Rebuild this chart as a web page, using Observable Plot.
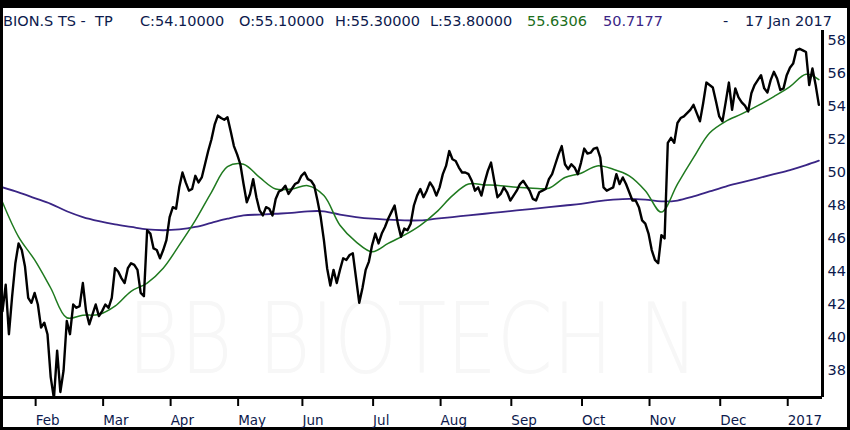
<!DOCTYPE html>
<html>
<head>
<meta charset="utf-8">
<script src="https://cdn.jsdelivr.net/npm/d3@7"></script>
<script src="https://cdn.jsdelivr.net/npm/@observablehq/plot@0.6"></script>
<style>
  html, body { margin: 0; padding: 0; }
  body { width: 850px; height: 430px; background: #000; position: relative; overflow: hidden; font-family: "DejaVu Sans", sans-serif; }
  #frame { position: absolute; left: 3px; top: 8px; width: 844px; height: 419px; background: #fff; }
  .t { position: absolute; top: 14px; font-size: 14.5px; line-height: 14.5px; color: #0d1a4d; white-space: pre; }
  #chart { position: absolute; left: 3px; top: 30px; }
</style>
</head>
<body>
<div id="frame"></div>
<div id="title"></div>
<div id="chart"></div>
<script>
// ---- data ----
const titleParts = ["BION.S TS -  TP", "C:54.10000", "O:55.10000", "H:55.30000", "L:53.80000"];
const maLabels = ["55.6306", "50.7177"];
const dateLabel = "17 Jan 2017";
const watermarkLabel = "BB BIOTECH N";
const firstDay = "2016-01-18";
const lastDay = "2017-01-17";
const holidays = ["2016-03-25", "2016-03-28", "2016-05-05", "2016-05-16", "2016-08-01", "2016-12-26", "2017-01-02"];
const monthLabels = ["Feb", "Mar", "Apr", "May", "Jun", "Jul", "Aug", "Sep", "Oct", "Nov", "Dec", "2017"];
const yTicks = [38, 40, 42, 44, 46, 48, 50, 52, 54, 56, 58];

// daily closes, one per trading day
const price = [
  41.6, 43.2, 40.2, 42.5, 44.5, 45.7, 45.3, 44.3, 42.4, 42.1,
  42.7, 42.0, 40.6, 40.9, 40.2, 37.6, 36.3, 39.2, 36.7, 38.0,
  41.0, 40.2, 42.0, 41.8, 41.9, 43.3, 41.6, 40.8, 41.4, 42.0,
  41.3, 41.6, 42.0, 41.8, 42.4, 44.2, 44.0, 43.6, 43.3, 44.2,
  44.5, 44.4, 44.1, 42.7, 42.5, 46.5, 46.3, 45.4, 45.3, 44.8,
  45.3, 45.9, 47.3, 47.9, 47.8, 49.1, 50.0, 49.4, 48.9, 49.0,
  49.8, 49.4, 49.7, 50.5, 51.3, 52.0, 52.9, 53.45, 53.3, 53.2,
  53.35, 52.5, 51.6, 51.1, 50.5, 49.3, 48.2, 48.7, 49.6, 48.5,
  47.7, 47.4, 47.9, 47.8, 47.4, 48.4, 48.85, 48.95, 49.2, 48.7,
  49.0, 49.3, 49.4, 49.8, 50.0, 49.6, 49.5, 49.2, 48.3, 47.3,
  45.9, 44.2, 43.15, 44.1, 43.3, 44.1, 44.8, 44.7, 45.0, 45.1,
  43.6, 42.1, 43.0, 44.1, 44.6, 45.6, 46.3, 45.7, 46.3, 46.7,
  47.2, 47.6, 48.0, 46.9, 46.1, 46.6, 46.5, 46.9, 48.0, 48.6,
  49.0, 48.5, 48.9, 49.4, 49.1, 48.6, 49.1, 49.9, 50.4, 51.3,
  50.8, 50.7, 50.3, 50.0, 50.0, 49.9, 49.5, 48.9, 49.1, 48.6,
  49.4, 50.1, 50.6, 49.5, 48.5, 48.7, 49.1, 48.8, 48.3, 48.6,
  48.9, 49.3, 49.5, 49.2, 48.9, 48.4, 48.3, 48.8, 48.9, 49.0,
  49.6, 49.9, 50.5, 51.1, 51.6, 50.5, 50.2, 50.5, 50.3, 49.9,
  50.6, 51.45, 51.15, 51.2, 51.45, 51.5, 50.9, 49.1, 48.9, 49.0,
  49.1, 49.9, 49.3, 49.7, 49.3, 48.8, 48.3, 48.3, 47.9, 47.1,
  46.9, 46.3, 45.3, 44.7, 44.5, 46.2, 46.0, 51.8, 52.1, 51.8,
  53.0, 53.3, 53.4, 53.6, 53.8, 54.1, 53.6, 53.1, 54.2, 55.45,
  55.3, 55.15, 54.3, 53.4, 53.1, 54.25, 55.45, 53.8, 55.1, 54.55,
  54.25, 54.05, 53.7, 54.8, 55.3, 55.6, 55.9, 55.1, 54.85, 55.6,
  56.1, 55.7, 55.0, 55.1, 55.9, 56.35, 56.6, 57.4, 57.5, 57.4,
  57.3, 55.3, 56.3, 55.3, 54.1
];

// moving averages read every 5th trading day (last value = final day)
const maStep = 5;
const greenMA = [
  48.2, 46.1, 44.7, 43.0, 41.2, 41.35, 41.4, 41.9, 42.8, 43.3,
  44.2, 45.6, 47.1, 48.8, 50.35, 50.5, 49.7, 49.0, 49.0, 49.2,
  48.6, 46.8, 45.8, 45.2, 45.7, 46.2, 46.8, 47.6, 48.6, 49.3,
  49.25, 49.2, 49.1, 49.05, 49.05, 49.7, 49.95, 50.4, 50.2, 49.8,
  48.9, 47.6, 49.3, 50.9, 52.4, 53.1, 53.55, 54.05, 54.6, 55.2,
  55.95, 55.63
];
const blueMA = [
  49.1, 48.8, 48.45, 48.1, 47.65, 47.3, 47.05, 46.85, 46.7, 46.55,
  46.5, 46.55, 46.7, 46.95, 47.2, 47.4, 47.45, 47.5, 47.55, 47.65,
  47.65, 47.45, 47.3, 47.2, 47.15, 47.1, 47.1, 47.2, 47.3, 47.4,
  47.5, 47.6, 47.7, 47.8, 47.9, 48.0, 48.1, 48.25, 48.35, 48.4,
  48.35, 48.25, 48.3, 48.55, 48.85, 49.15, 49.4, 49.65, 49.9, 50.15,
  50.45, 50.72
];

// ---- trading-day calendar ----
const fmt = d3.timeFormat("%Y-%m-%d");
const parse = d3.timeParse("%Y-%m-%d");
const holidaySet = new Set(holidays);
const days = d3.timeDay.range(parse(firstDay), d3.timeDay.offset(parse(lastDay), 1))
  .filter(d => d.getDay() !== 0 && d.getDay() !== 6 && !holidaySet.has(fmt(d)));
const last = price.length - 1;
const tickIdx = [];
days.forEach((d, i) => { if (i > 0 && d.getMonth() !== days[i - 1].getMonth()) tickIdx.push(i); });

const priceData = price.map((v, i) => ({i, v}));
const maIndex = k => Math.min(k * maStep, last);
const greenData = greenMA.map((v, k) => ({i: maIndex(k), v}));
const blueData = blueMA.map((v, k) => ({i: maIndex(k), v}));

// ---- title ----
const navy = "#0d1a4d";
const titleDiv = document.getElementById("title");
const spans = [
  [titleParts[0], 3, navy], [titleParts[1], 140, navy], [titleParts[2], 239, navy],
  [titleParts[3], 335, navy], [titleParts[4], 430, navy],
  [maLabels[0], 527, "#1c6e1c"], [maLabels[1], 603, "#3a2585"],
  ["-", 723, navy], [dateLabel, 745, navy]
];
for (const [txt, left, col] of spans) {
  const s = document.createElement("span");
  s.className = "t"; s.textContent = txt; s.style.left = left + "px"; s.style.color = col;
  titleDiv.appendChild(s);
}

// ---- chart ----
const xDomain = [0.311, 255.13];
const yDomain = [36.364, 58.606];
const chart = Plot.plot({
  width: 844, height: 397,
  marginLeft: 0, marginRight: 25, marginTop: 0, marginBottom: 30,
  x: {domain: xDomain, label: null},
  y: {domain: yDomain, label: null},
  style: {background: "white", fontFamily: "DejaVu Sans, sans-serif", overflow: "visible"},
  marks: [
    Plot.text([watermarkLabel], {text: d => d, frameAnchor: "bottom", lineAnchor: "bottom", dy: -25,
      fontSize: 98, fontWeight: 200, fill: "#f7f7f7"}),
    Plot.line(blueData, {x: "i", y: "v", stroke: "#3a2585", strokeWidth: 1.8, curve: "catmull-rom", clip: true}),
    Plot.line(greenData, {x: "i", y: "v", stroke: "#1f7a1f", strokeWidth: 1.5, curve: "catmull-rom", clip: true}),
    Plot.line(priceData, {x: "i", y: "v", stroke: "#000", strokeWidth: 2.4, strokeLinejoin: "round", clip: true}),
    Plot.axisX(tickIdx, {anchor: "bottom", label: null, tickSize: 9, tickPadding: 9, strokeWidth: 2, stroke: "#000",
      fill: navy, fontSize: 13.5, textAnchor: "start", dx: 1,
      tickFormat: d => monthLabels[tickIdx.indexOf(d)]}),
    Plot.axisY(yTicks, {anchor: "right", label: null, tickSize: 0, tickPadding: 5, fill: navy, fontSize: 14.5, textAnchor: "start"}),
    Plot.ruleY([yDomain[0]], {stroke: "#000", strokeWidth: 3}),
    Plot.ruleX([xDomain[1]], {stroke: "#000", strokeWidth: 3})
  ]
});
document.getElementById("chart").appendChild(chart);
d3.select(chart).selectAll("text").filter(function () { return this.textContent === watermarkLabel; })
  .attr("textLength", 571).attr("lengthAdjust", "spacingAndGlyphs");
</script>
</body>
</html>
